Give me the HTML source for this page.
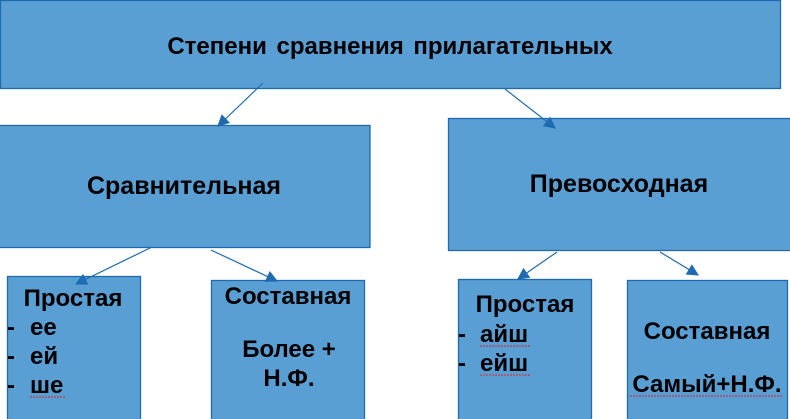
<!DOCTYPE html>
<html><head><meta charset="utf-8"><style>
html,body{margin:0;padding:0;background:#fff;}
svg{display:block;}
text{font-family:"Liberation Sans",Arial,sans-serif;font-weight:bold;fill:#000;}
</style></head><body>
<svg width="790" height="419" viewBox="0 0 790 419" xmlns="http://www.w3.org/2000/svg">
<defs>
<marker id="b" viewBox="0 0 10 10" refX="9" refY="5" markerWidth="14" markerHeight="12" orient="auto" markerUnits="userSpaceOnUse">
<path d="M0,0 L10,5 L0,10 z" fill="#1F6BB0"/>
</marker>
</defs>
<g fill="#5A9FD4" stroke="#1F6BB0" stroke-width="1.3">
<rect x="0.5" y="0.5" width="780" height="88"/>
<rect x="-2" y="125.5" width="372" height="122"/>
<rect x="448.5" y="118.5" width="345" height="132"/>
<rect x="7.5" y="276.5" width="133" height="150"/>
<rect x="211.5" y="280.5" width="153" height="150"/>
<rect x="458.5" y="279.5" width="133" height="150"/>
<rect x="627.5" y="280.5" width="160" height="150"/>
</g>
<g stroke="#1F6BB0" stroke-width="1.2" marker-end="url(#b)">
<line x1="263" y1="83" x2="218" y2="126"/>
<line x1="505" y1="89" x2="555" y2="128"/>
<line x1="152" y1="247" x2="76" y2="284"/>
<line x1="211" y1="250" x2="277" y2="281"/>
<line x1="557" y1="252" x2="518" y2="279"/>
<line x1="660" y1="252" x2="698" y2="275"/>
</g>
<text x="390" y="54" font-size="24" text-anchor="middle" word-spacing="3">Степени сравнения прилагательных</text>
<text x="184" y="194" font-size="25" text-anchor="middle">Сравнительная</text>
<text x="619" y="192" font-size="25" text-anchor="middle">Превосходная</text>
<text x="73" y="306" font-size="24" text-anchor="middle">Простая</text>
<text x="7" y="335" font-size="24">-</text><text x="30" y="335" font-size="24">ее</text>
<text x="7" y="364" font-size="24">-</text><text x="30" y="364" font-size="24">ей</text>
<text x="7" y="393" font-size="24">-</text><text x="30" y="393" font-size="24">ше</text>
<text x="288" y="304" font-size="24" text-anchor="middle">Составная</text>
<text x="289" y="357" font-size="24" text-anchor="middle">Более +</text>
<text x="289" y="386" font-size="24" text-anchor="middle">Н.Ф.</text>
<text x="525" y="312" font-size="24" text-anchor="middle">Простая</text>
<text x="458" y="342" font-size="24">-</text><text x="480" y="342" font-size="24">айш</text>
<text x="458" y="371" font-size="24">-</text><text x="480" y="371" font-size="24">ейш</text>
<text x="707" y="339" font-size="24" text-anchor="middle">Составная</text>
<text x="707" y="392" font-size="24" text-anchor="middle">Самый+Н.Ф.</text>
<g stroke="#e02020" stroke-width="1" fill="none" stroke-dasharray="2,1">
<line x1="30" y1="397" x2="65" y2="397"/>
<line x1="480" y1="346" x2="530" y2="346"/>
<line x1="480" y1="375" x2="530" y2="375"/>
<line x1="630" y1="396" x2="783" y2="396"/>
</g>
</svg>
</body></html>
